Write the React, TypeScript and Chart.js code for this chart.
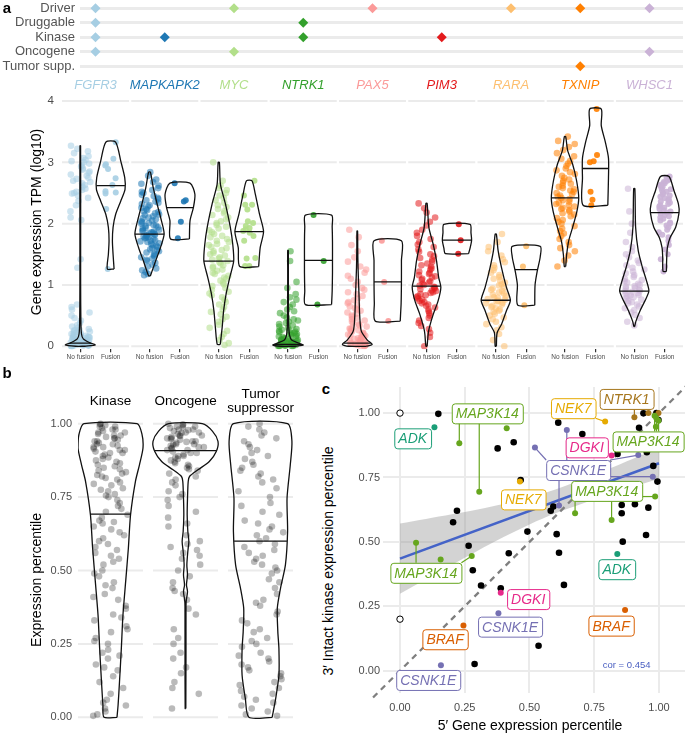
import React, { useEffect, useRef } from "react";
import { Chart, registerables } from "chart.js";

Chart.register(...registerables);

const FONT = "'Liberation Sans', Arial, Helvetica, sans-serif";
Chart.defaults.font.family = FONT;

// ================= Panel a : annotation matrix =================
const GENES = ["FGFR3", "MAPKAPK2", "MYC", "NTRK1", "PAX5", "PIM3", "RARA", "TXNIP", "WHSC1"];
const GENE_COLORS = ["#a6cee3", "#1f78b4", "#b2df8a", "#33a02c", "#fb9a99", "#e31a1c", "#fdbf6f", "#ff7f00", "#cab2d6"];
const ANNOT_ROWS = ["Tumor supp.", "Oncogene", "Kinase", "Druggable", "Driver"];
const TUMOR_SUPP_GENES = ["TXNIP"];
const ONCOGENE_GENES = ["FGFR3", "MYC", "WHSC1"];
const KINASE_GENES = ["FGFR3", "MAPKAPK2", "NTRK1", "PIM3"];
const DRUGGABLE_GENES = ["FGFR3", "NTRK1"];
const DRIVER_GENES = ["FGFR3", "MYC", "PAX5", "RARA", "TXNIP", "WHSC1"];
const ANNOT_MEMBERS = [TUMOR_SUPP_GENES, ONCOGENE_GENES, KINASE_GENES, DRUGGABLE_GENES, DRIVER_GENES];

// ================= Panel a : expression (log10 TPM) =================
const FUSION_GROUPS = ["No fusion", "Fusion"];
const EXPR_TICKS = [0, 1, 2, 3, 4];

const FGFR3_NF = [3.27, 3.22, 3.18, 3.15, 3.1, 3.07, 3.04, 3.02, 3.0, 2.98, 2.95, 2.93, 2.9, 2.88, 2.85, 2.83, 2.8, 2.78, 2.75, 2.73, 2.7, 2.68, 2.66, 2.63, 2.6, 2.57, 2.55, 2.52, 2.5, 2.49, 2.46, 2.42, 2.37, 2.3, 2.2, 2.1, 2.06, 1.42, 1.28, 0.68, 0.64, 0.6, 0.55, 0.5, 0.46, 0.42, 0.38, 0.34, 0.32, 0.3, 0.28, 0.27, 0.26, 0.25, 0.24, 0.23, 0.22, 0.21, 0.2, 0.19, 0.18, 0.18, 0.17, 0.16, 0.16, 0.15, 0.15, 0.14, 0.14, 0.13, 0.13, 0.12, 0.12, 0.11, 0.11, 0.1, 0.1, 0.1, 0.09, 0.09, 0.09, 0.08, 0.08, 0.08, 0.07, 0.07, 0.07, 0.06, 0.06, 0.06, 0.05, 0.05, 0.05, 0.05, 0.04, 0.04, 0.04, 0.03, 0.03, 0.03, 0.03, 0.02, 0.02, 0.02, 0.02, 0.01, 0.01, 0.01, 0, 0, 0, 0];
const FGFR3_F = [3.33, 3.06, 2.97, 2.89, 2.74, 2.63, 2.51, 2.49, 2.24, 2.53, 2.95, 1.26];
const MAPKAPK2_NF = [2.84, 2.78, 2.72, 2.68, 2.65, 2.62, 2.58, 2.55, 2.52, 2.5, 2.47, 2.45, 2.42, 2.4, 2.38, 2.36, 2.34, 2.32, 2.3, 2.28, 2.26, 2.24, 2.22, 2.2, 2.19, 2.17, 2.15, 2.14, 2.12, 2.1, 2.09, 2.07, 2.05, 2.04, 2.02, 2.01, 2.0, 1.98, 1.97, 1.96, 1.94, 1.93, 1.92, 1.9, 1.89, 1.88, 1.87, 1.86, 1.85, 1.84, 1.83, 1.82, 1.81, 1.8, 1.79, 1.78, 1.77, 1.76, 1.75, 1.73, 1.72, 1.71, 1.7, 1.68, 1.67, 1.65, 1.64, 1.62, 1.6, 1.58, 1.57, 1.55, 1.53, 1.51, 1.49, 1.47, 1.45, 1.43, 1.41, 1.39, 1.36, 1.33, 1.3, 1.27, 1.24, 1.21, 1.18, 1.16];
const MAPKAPK2_F = [2.66, 2.36, 2.38, 2.03, 1.76];
const MYC_NF = [3.0, 2.7, 2.62, 2.58, 2.55, 2.5, 2.46, 2.42, 2.38, 2.34, 2.3, 2.27, 2.24, 2.2, 2.17, 2.14, 2.1, 2.07, 2.04, 2.01, 1.98, 1.95, 1.92, 1.89, 1.86, 1.83, 1.8, 1.78, 1.75, 1.72, 1.7, 1.67, 1.65, 1.62, 1.6, 1.57, 1.55, 1.52, 1.5, 1.48, 1.45, 1.43, 1.41, 1.39, 1.37, 1.35, 1.32, 1.3, 1.28, 1.25, 1.23, 1.2, 1.18, 1.15, 1.12, 1.1, 1.07, 1.04, 1.01, 0.98, 0.95, 0.92, 0.89, 0.86, 0.83, 0.8, 0.76, 0.72, 0.68, 0.64, 0.6, 0.56, 0.52, 0.48, 0.44, 0.4, 0.35, 0.3, 0.25, 0.2, 0.15, 0.1, 0.05, 0.02];
const MYC_F = [2.7, 2.46, 2.31, 2.31, 2.23, 2.04, 2.01, 1.96, 1.93, 1.91, 1.88, 1.85, 1.8, 1.72, 1.44, 1.43, 1.31, 1.31];
const NTRK1_NF = [1.55, 1.39, 1.05, 0.95, 0.85, 0.8, 0.76, 0.72, 0.68, 0.64, 0.6, 0.57, 0.54, 0.5, 0.47, 0.44, 0.42, 0.4, 0.38, 0.36, 0.34, 0.32, 0.3, 0.28, 0.27, 0.26, 0.25, 0.24, 0.23, 0.22, 0.21, 0.2, 0.19, 0.18, 0.17, 0.16, 0.15, 0.14, 0.13, 0.12, 0.12, 0.11, 0.1, 0.1, 0.09, 0.09, 0.08, 0.08, 0.07, 0.07, 0.06, 0.06, 0.05, 0.05, 0.05, 0.04, 0.04, 0.03, 0.03, 0.03, 0.02, 0.02, 0.02, 0.01, 0.01, 0.01, 0, 0, 0, 0];
const NTRK1_F = [2.14, 1.39, 0.68];
const PAX5_NF = [1.9, 1.78, 1.65, 1.55, 1.45, 1.38, 1.3, 1.25, 1.2, 1.15, 1.1, 1.05, 1.0, 0.95, 0.92, 0.88, 0.85, 0.82, 0.78, 0.75, 0.72, 0.7, 0.67, 0.65, 0.62, 0.6, 0.58, 0.55, 0.53, 0.5, 0.48, 0.46, 0.44, 0.42, 0.4, 0.38, 0.36, 0.34, 0.32, 0.3, 0.29, 0.28, 0.26, 0.25, 0.24, 0.22, 0.21, 0.2, 0.19, 0.18, 0.17, 0.16, 0.15, 0.14, 0.13, 0.12, 0.11, 0.1, 0.09, 0.08, 0.07, 0.06, 0.05, 0.05, 0.04, 0.04, 0.03, 0.03, 0.02, 0.02, 0.01, 0.01, 0, 0];
const PAX5_F = [1.72, 1.05, 0.41];
const PIM3_NF = [2.33, 2.25, 2.18, 2.1, 2.03, 1.97, 1.9, 1.85, 1.8, 1.75, 1.7, 1.66, 1.62, 1.58, 1.54, 1.5, 1.47, 1.44, 1.41, 1.38, 1.35, 1.32, 1.3, 1.27, 1.25, 1.22, 1.2, 1.18, 1.16, 1.14, 1.12, 1.1, 1.08, 1.06, 1.04, 1.02, 1.0, 0.99, 0.97, 0.96, 0.94, 0.93, 0.91, 0.9, 0.88, 0.87, 0.85, 0.83, 0.82, 0.8, 0.78, 0.76, 0.74, 0.72, 0.7, 0.68, 0.66, 0.63, 0.6, 0.57, 0.54, 0.5, 0.46, 0.42, 0.38, 0.33, 0.28, 0.22, 0.15, 0];
const PIM3_F = [1.99, 1.73, 1.51];
const RARA_NF = [1.83, 1.7, 1.62, 1.55, 1.48, 1.42, 1.37, 1.32, 1.28, 1.24, 1.2, 1.16, 1.13, 1.1, 1.07, 1.04, 1.01, 0.99, 0.96, 0.94, 0.92, 0.9, 0.88, 0.86, 0.84, 0.82, 0.8, 0.79, 0.77, 0.76, 0.74, 0.73, 0.71, 0.7, 0.68, 0.66, 0.64, 0.62, 0.6, 0.58, 0.56, 0.53, 0.5, 0.47, 0.44, 0.4, 0.36, 0.31, 0.26, 0.2, 0.1, 0];
const RARA_F = [1.63, 1.3, 0.67];
const TXNIP_NF = [3.42, 3.35, 3.3, 3.25, 3.2, 3.15, 3.1, 3.06, 3.02, 2.98, 2.94, 2.9, 2.87, 2.84, 2.81, 2.78, 2.75, 2.72, 2.7, 2.67, 2.65, 2.62, 2.6, 2.58, 2.56, 2.54, 2.52, 2.5, 2.48, 2.46, 2.44, 2.42, 2.4, 2.38, 2.36, 2.34, 2.32, 2.3, 2.28, 2.26, 2.24, 2.22, 2.2, 2.17, 2.15, 2.12, 2.09, 2.06, 2.03, 2.0, 1.96, 1.92, 1.88, 1.84, 1.8, 1.75, 1.7, 1.65, 1.6, 1.55, 1.48, 1.4, 1.3];
const TXNIP_F = [3.87, 3.12, 3.0, 3.02, 2.52, 2.39, 2.3];
const WHSC1_NF = [2.57, 2.2, 2.0, 1.85, 1.7, 1.62, 1.55, 1.5, 1.45, 1.4, 1.36, 1.32, 1.28, 1.25, 1.22, 1.19, 1.16, 1.13, 1.1, 1.08, 1.06, 1.04, 1.02, 1.0, 0.98, 0.97, 0.95, 0.94, 0.92, 0.91, 0.9, 0.89, 0.87, 0.86, 0.84, 0.83, 0.81, 0.8, 0.78, 0.76, 0.74, 0.72, 0.7, 0.68, 0.65, 0.62, 0.59, 0.55, 0.51, 0.46, 0.4, 0.34];
const WHSC1_F = [2.77, 2.75, 2.72, 2.7, 2.68, 2.66, 2.64, 2.62, 2.6, 2.58, 2.56, 2.54, 2.52, 2.5, 2.48, 2.46, 2.44, 2.42, 2.4, 2.38, 2.36, 2.34, 2.32, 2.3, 2.28, 2.26, 2.24, 2.22, 2.2, 2.18, 2.16, 2.14, 2.12, 2.1, 2.08, 2.05, 2.02, 2.0, 1.97, 1.94, 1.9, 1.86, 1.82, 1.78, 1.72, 1.65, 1.58, 1.5, 1.42, 1.3, 1.22];

// violin outlines: y levels and half-widths (category units)
const FGFR3_NF_VY = [0, 0.02, 0.06, 0.12, 0.2, 0.4, 1, 2, 3.27];
const FGFR3_NF_VW = [0.15, 0.49, 0.3, 0.1, 0.04, 0.02, 0.012, 0.012, 0.01];
const FGFR3_F_VY = [1.26, 1.5, 1.72, 1.94, 2.15, 2.37, 2.56, 2.75, 3.02, 3.33];
const FGFR3_F_VW = [0.11, 0.077, 0.055, 0.077, 0.16, 0.33, 0.47, 0.46, 0.33, 0.16];
const MAPKAPK2_NF_VY = [1.15, 1.39, 1.61, 1.83, 2.05, 2.32, 2.59, 2.84];
const MAPKAPK2_NF_VW = [0.03, 0.2, 0.36, 0.48, 0.39, 0.25, 0.12, 0.03];
const MAPKAPK2_F_VY = [1.75, 2.05, 2.26, 2.48, 2.66];
const MAPKAPK2_F_VW = [0.31, 0.33, 0.44, 0.49, 0.33];
const MYC_NF_VY = [0.03, 0.3, 0.58, 0.85, 1.12, 1.39, 1.66, 1.94, 2.32, 2.64, 3.0];
const MYC_NF_VW = [0.05, 0.11, 0.16, 0.24, 0.36, 0.49, 0.46, 0.38, 0.22, 0.055, 0.02];
const MYC_F_VY = [1.3, 1.61, 1.87, 2.15, 2.48, 2.7];
const MYC_F_VW = [0.31, 0.36, 0.47, 0.34, 0.2, 0.09];
const NTRK1_NF_VY = [0, 0.02, 0.05, 0.1, 0.18, 0.3, 0.5, 0.8, 1.2, 1.56];
const NTRK1_NF_VW = [0.25, 0.5, 0.35, 0.12, 0.05, 0.025, 0.015, 0.012, 0.01, 0.01];
const NTRK1_F_VY = [0.68, 0.9, 1.2, 1.4, 1.7, 1.95, 2.14];
const NTRK1_F_VW = [0.43, 0.45, 0.46, 0.46, 0.46, 0.45, 0.43];
const PAX5_NF_VY = [0, 0.03, 0.1, 0.25, 0.5, 0.78, 1.0, 1.29, 1.6, 1.88];
const PAX5_NF_VW = [0.3, 0.49, 0.33, 0.13, 0.08, 0.06, 0.045, 0.025, 0.015, 0.01];
const PAX5_F_VY = [0.41, 0.7, 1.05, 1.4, 1.72];
const PAX5_F_VW = [0.41, 0.44, 0.45, 0.45, 0.45];
const PIM3_NF_VY = [0, 0.2, 0.3, 0.52, 0.74, 0.96, 1.12, 1.39, 1.66, 1.94, 2.33];
const PIM3_NF_VW = [0.02, 0.055, 0.09, 0.22, 0.38, 0.47, 0.4, 0.33, 0.22, 0.077, 0.02];
const PIM3_F_VY = [1.51, 1.6, 1.73, 1.85, 1.99];
const PIM3_F_VW = [0.38, 0.43, 0.48, 0.46, 0.43];
const RARA_NF_VY = [0, 0.22, 0.36, 0.58, 0.75, 0.96, 1.28, 1.56, 1.83];
const RARA_NF_VW = [0.02, 0.044, 0.19, 0.35, 0.48, 0.35, 0.19, 0.077, 0.02];
const RARA_F_VY = [0.67, 1.0, 1.22, 1.46, 1.63];
const RARA_F_VW = [0.28, 0.29, 0.36, 0.46, 0.46];
const TXNIP_NF_VY = [1.3, 1.5, 1.72, 1.94, 2.2, 2.42, 2.7, 2.97, 3.19, 3.42];
const TXNIP_NF_VW = [0.022, 0.055, 0.12, 0.25, 0.39, 0.45, 0.38, 0.25, 0.088, 0.022];
const TXNIP_F_VY = [2.3, 2.75, 3.07, 3.34, 3.6, 3.87];
const TXNIP_F_VW = [0.405, 0.427, 0.427, 0.32, 0.19, 0.19];
const WHSC1_NF_VY = [0.32, 0.41, 0.58, 0.74, 0.9, 1.07, 1.28, 1.56, 1.94, 2.57];
const WHSC1_NF_VW = [0.011, 0.055, 0.19, 0.35, 0.48, 0.4, 0.27, 0.13, 0.044, 0.02];
const WHSC1_F_VY = [1.22, 1.45, 1.61, 1.77, 1.94, 2.18, 2.32, 2.53, 2.77];
const WHSC1_F_VW = [0.055, 0.066, 0.088, 0.175, 0.36, 0.47, 0.45, 0.31, 0.14];

const NF_MEDIANS = [0.05, 1.83, 1.39, 0.03, 0.05, 0.98, 0.75, 2.42, 0.9];
const F_MEDIANS = [2.62, 2.26, 1.87, 1.4, 1.05, 1.73, 1.25, 2.9, 2.18];

const NF_POINTS = [FGFR3_NF, MAPKAPK2_NF, MYC_NF, NTRK1_NF, PAX5_NF, PIM3_NF, RARA_NF, TXNIP_NF, WHSC1_NF];
const F_POINTS = [FGFR3_F, MAPKAPK2_F, MYC_F, NTRK1_F, PAX5_F, PIM3_F, RARA_F, TXNIP_F, WHSC1_F];
const NF_VY = [FGFR3_NF_VY, MAPKAPK2_NF_VY, MYC_NF_VY, NTRK1_NF_VY, PAX5_NF_VY, PIM3_NF_VY, RARA_NF_VY, TXNIP_NF_VY, WHSC1_NF_VY];
const NF_VW = [FGFR3_NF_VW, MAPKAPK2_NF_VW, MYC_NF_VW, NTRK1_NF_VW, PAX5_NF_VW, PIM3_NF_VW, RARA_NF_VW, TXNIP_NF_VW, WHSC1_NF_VW];
const F_VY = [FGFR3_F_VY, MAPKAPK2_F_VY, MYC_F_VY, NTRK1_F_VY, PAX5_F_VY, PIM3_F_VY, RARA_F_VY, TXNIP_F_VY, WHSC1_F_VY];
const F_VW = [FGFR3_F_VW, MAPKAPK2_F_VW, MYC_F_VW, NTRK1_F_VW, PAX5_F_VW, PIM3_F_VW, RARA_F_VW, TXNIP_F_VW, WHSC1_F_VW];

// ================= Panel b : expression percentile =================
const PCT_CLASSES = ["Kinase", "Oncogene", "Tumor suppressor"];
const PCT_TICKS = [0, 0.25, 0.5, 0.75, 1];
const KINASE_PCT = [1.0, 0.998, 0.995, 0.99, 0.99, 0.985, 0.98, 0.98, 0.975, 0.97, 0.97, 0.965, 0.96, 0.96, 0.955, 0.95, 0.95, 0.945, 0.94, 0.94, 0.935, 0.93, 0.93, 0.925, 0.92, 0.92, 0.915, 0.91, 0.91, 0.905, 0.9, 0.9, 0.895, 0.89, 0.885, 0.88, 0.875, 0.87, 0.865, 0.86, 0.855, 0.85, 0.845, 0.84, 0.835, 0.83, 0.825, 0.82, 0.815, 0.81, 0.8, 0.795, 0.79, 0.78, 0.775, 0.77, 0.76, 0.755, 0.75, 0.74, 0.73, 0.72, 0.71, 0.7, 0.69, 0.68, 0.67, 0.665, 0.66, 0.65, 0.64, 0.63, 0.62, 0.61, 0.6, 0.59, 0.58, 0.57, 0.56, 0.55, 0.54, 0.53, 0.52, 0.5, 0.49, 0.48, 0.46, 0.45, 0.44, 0.42, 0.41, 0.4, 0.38, 0.37, 0.35, 0.34, 0.33, 0.31, 0.3, 0.29, 0.27, 0.26, 0.25, 0.23, 0.22, 0.21, 0.2, 0.18, 0.17, 0.16, 0.14, 0.12, 0.1, 0.08, 0.06, 0.05, 0.04, 0.03, 0.02, 0.01, 0.005];
const ONCOGENE_PCT = [1.0, 0.998, 0.995, 0.99, 0.99, 0.988, 0.985, 0.98, 0.98, 0.978, 0.975, 0.97, 0.97, 0.968, 0.965, 0.96, 0.96, 0.958, 0.955, 0.95, 0.95, 0.948, 0.945, 0.94, 0.94, 0.938, 0.935, 0.93, 0.93, 0.928, 0.925, 0.92, 0.92, 0.918, 0.915, 0.91, 0.91, 0.905, 0.9, 0.9, 0.895, 0.89, 0.89, 0.885, 0.88, 0.875, 0.87, 0.865, 0.86, 0.855, 0.85, 0.845, 0.84, 0.83, 0.82, 0.81, 0.8, 0.79, 0.77, 0.76, 0.75, 0.74, 0.72, 0.7, 0.68, 0.66, 0.65, 0.62, 0.6, 0.59, 0.58, 0.57, 0.56, 0.55, 0.54, 0.52, 0.5, 0.48, 0.46, 0.44, 0.43, 0.42, 0.4, 0.37, 0.35, 0.3, 0.27, 0.25, 0.22, 0.2, 0.17, 0.15, 0.12, 0.1, 0.08, 0.03];
const TUMOR_PCT = [1.0, 0.99, 0.98, 0.97, 0.96, 0.95, 0.94, 0.93, 0.92, 0.91, 0.9, 0.89, 0.88, 0.87, 0.86, 0.85, 0.84, 0.83, 0.82, 0.81, 0.8, 0.78, 0.77, 0.75, 0.73, 0.72, 0.7, 0.69, 0.67, 0.66, 0.65, 0.64, 0.63, 0.62, 0.61, 0.6, 0.59, 0.58, 0.57, 0.56, 0.55, 0.54, 0.53, 0.52, 0.51, 0.5, 0.49, 0.47, 0.46, 0.44, 0.42, 0.4, 0.39, 0.38, 0.36, 0.35, 0.33, 0.32, 0.3, 0.29, 0.27, 0.26, 0.25, 0.24, 0.22, 0.21, 0.2, 0.19, 0.18, 0.17, 0.16, 0.15, 0.14, 0.13, 0.12, 0.11, 0.1, 0.09, 0.08, 0.07, 0.06, 0.05, 0.04, 0.03, 0.02, 0.01, 0.005];
const KINASE_VY = [0, 0.041, 0.12, 0.234, 0.348, 0.462, 0.576, 0.689, 0.803, 0.86, 0.917, 0.965, 1.0];
const KINASE_VW = [0.12, 0.14, 0.166, 0.2, 0.23, 0.28, 0.33, 0.37, 0.46, 0.535, 0.6, 0.58, 0.49];
const ONCOGENE_VY = [0.03, 0.234, 0.348, 0.394, 0.428, 0.451, 0.485, 0.519, 0.565, 0.599, 0.633, 0.689, 0.746, 0.803, 0.82, 0.843, 0.871, 0.906, 0.94, 0.974, 1.0];
const ONCOGENE_VW = [0.006, 0.009, 0.009, 0.012, 0.037, 0.018, 0.037, 0.025, 0.043, 0.062, 0.043, 0.031, 0.037, 0.05, 0.074, 0.23, 0.44, 0.57, 0.6, 0.5, 0.31];
const TUMOR_VY = [0.0, 0.064, 0.143, 0.234, 0.291, 0.371, 0.44, 0.519, 0.633, 0.746, 0.86, 0.94, 1.0];
const TUMOR_VW = [0.215, 0.28, 0.34, 0.34, 0.32, 0.31, 0.37, 0.46, 0.5, 0.49, 0.55, 0.58, 0.5];
const PCT_MEDIANS = [0.692, 0.908, 0.6];
const PCT_POINTS = [KINASE_PCT, ONCOGENE_PCT, TUMOR_PCT];
const PCT_VY = [KINASE_VY, ONCOGENE_VY, TUMOR_VY];
const PCT_VW = [KINASE_VW, ONCOGENE_VW, TUMOR_VW];

// ================= Panel c : 5' vs 3' percentile =================
const C_TICKS = [0, 0.25, 0.5, 0.75, 1];
const C_BLACK_X = [0.148, 0.377, 0.439, 0.466, 0.22, 0.205, 0.265, 0.281, 0.313, 0.389, 0.492, 0.42, 0.582, 0.592, 0.605, 0.614, 0.633, 0.611, 0.704, 0.535, 0.288, 0.84, 0.856, 0.856, 0.86, 0.907, 0.95, 0.959, 0.923, 0.94, 0.953, 0.978, 0.994, 0.998, 0.99];
const C_BLACK_Y = [0.997, 0.863, 0.887, 0.74, 0.621, 0.576, 0.485, 0.39, 0.331, 0.32, 0.54, 0.456, 0.621, 0.637, 0.53, 0.458, 0.333, 0.963, 0.919, 0.097, 0.026, 0.841, 0.643, 0.611, 0.501, 0.646, 0.527, 0.633, 0.943, 0.999, 0.848, 0.795, 0.734, 0.973, 1.0];
const C_OPEN_X = [0, 0];
const C_OPEN_Y = [1.0, 0.2];
const C_GENES = ["ADK", "BRAF", "CSNK1E", "DGKI", "MAP3K14", "NEK7", "NTRK1"];
const C_COLORS = ["#1b9e77", "#d95f02", "#7570b3", "#e7298a", "#66a61e", "#e6ab02", "#a6761d"];
const ADK_X = [0.133, 0.839];
const ADK_Y = [0.945, 0.453];
const BRAF_X = [0.245, 0.869];
const BRAF_Y = [0.175, 0.236];
const CSNK1E_X = [0.158, 0.38, 0.521, 0.644, 0.614, 0.92, 0.976];
const CSNK1E_Y = [0.021, 0.223, 0.866, 0.934, 0.641, 0.837, 0.753];
const DGKI_X = [0.817, 0.389];
const DGKI_Y = [0.835, 0.303];
const MAP3K14_X = [0.229, 0.306, 0.412, 0.062, 0.157, 0.277, 0.983, 0.99, 0.998, 0.988, 0.676, 0.817, 0.985];
const MAP3K14_Y = [0.883, 0.695, 0.941, 0.497, 0.432, 0.445, 0.99, 0.98, 0.97, 0.947, 0.611, 0.585, 0.676];
const NEK7_X = [0.463, 0.792];
const NEK7_Y = [0.734, 0.967];
const NTRK1_X = [0.905, 0.959, 0.998];
const NTRK1_Y = [0.984, 1.0, 1.0];
const C_GENE_X = [ADK_X, BRAF_X, CSNK1E_X, DGKI_X, MAP3K14_X, NEK7_X, NTRK1_X];
const C_GENE_Y = [ADK_Y, BRAF_Y, CSNK1E_Y, DGKI_Y, MAP3K14_Y, NEK7_Y, NTRK1_Y];
const FIT_X = [0, 1];
const FIT_Y = [0.435, 0.805];
const CI_X = [0, 0.1, 0.2, 0.3, 0.4, 0.5, 0.6, 0.7, 0.8, 0.9, 1.0];
const CI_LOW = [0.299, 0.355, 0.411, 0.466, 0.519, 0.568, 0.611, 0.647, 0.681, 0.713, 0.745];
const CI_HIGH = [0.571, 0.589, 0.607, 0.626, 0.647, 0.672, 0.703, 0.741, 0.781, 0.823, 0.865];
const IDENTITY_RANGE = [-0.104, 1.13];
const COR_TEXT = "cor = 0.454";

// label placement (data units) for repelled labels: gene index, position, linked point indices
const C_LABELS = [
  { g: 0, x: 0.049, y: 0.902, pts: [0] },
  { g: 0, x: 0.837, y: 0.394, pts: [1] },
  { g: 1, x: 0.174, y: 0.122, pts: [0] },
  { g: 1, x: 0.815, y: 0.175, pts: [1] },
  { g: 2, x: 0.109, y: -0.036, pts: [0] },
  { g: 2, x: 0.425, y: 0.171, pts: [1] },
  { g: 2, x: 0.688, y: 0.779, pts: [2, 3, 4, 5, 6] },
  { g: 3, x: 0.721, y: 0.867, pts: [0] },
  { g: 3, x: 0.495, y: 0.278, pts: [1] },
  { g: 4, x: 0.337, y: 0.999, pts: [0, 1, 2] },
  { g: 4, x: 0.1, y: 0.38, pts: [3, 4, 5] },
  { g: 4, x: 0.958, y: 0.89, pts: [6, 7, 8, 9] },
  { g: 4, x: 0.798, y: 0.698, pts: [10, 11, 12] },
  { g: 5, x: 0.476, y: 0.665, pts: [0] },
  { g: 5, x: 0.669, y: 1.019, pts: [1] },
  { g: 6, x: 0.875, y: 1.055, pts: [0, 1, 2] },
];

// ================= helpers =================
type Pt = { x: number; y: number };
const FACET_W = 2.2;
const FACET_GAP = 0.074;
const STRIDE = FACET_W + FACET_GAP;
const EXPR_XMAX = GENES.length * FACET_W + (GENES.length - 1) * FACET_GAP;
const catX = (g: number, j: number) => g * STRIDE + 0.6 + j;
const PCT_FW = 1.2;
const PCT_GAP = 0.185;
const PCT_STRIDE = PCT_FW + PCT_GAP;
const PCT_XMAX = 3 * PCT_FW + 2 * PCT_GAP;

const hexA = (hex: string, a: number) => {
  const n = parseInt(hex.slice(1), 16);
  return `rgba(${(n >> 16) & 255},${(n >> 8) & 255},${n & 255},${a})`;
};

function violinPolygon(cx: number, vy: number[], vw: number[]): Pt[] {
  const pts: Pt[] = [];
  for (let k = 0; k < vy.length; k++) pts.push({ x: cx + vw[k], y: vy[k] });
  for (let k = vy.length - 1; k >= 0; k--) pts.push({ x: cx - vw[k], y: vy[k] });
  pts.push({ x: pts[0].x, y: pts[0].y });
  return pts;
}
function widthAt(vy: number[], vw: number[], y: number) {
  if (y <= vy[0]) return vw[0];
  for (let k = 1; k < vy.length; k++) {
    if (y <= vy[k]) {
      const t = (y - vy[k - 1]) / (vy[k] - vy[k - 1]);
      return vw[k - 1] + t * (vw[k] - vw[k - 1]);
    }
  }
  return vw[vw.length - 1];
}
function medianSeg(cx: number, vy: number[], vw: number[], m: number): Pt[] {
  const w = widthAt(vy, vw, m);
  return [{ x: cx - w, y: m }, { x: cx + w, y: m }];
}
// deterministic horizontal jitter offset in [-1, 1] (display only, not data)
const jitterOffset = (n: number) => {
  const s = Math.sin(n * 12.9898 + 78.233) * 43758.5453;
  return (s - Math.floor(s)) * 2 - 1;
};
function jitter(cx: number, vals: number[], w: number, seed: number): Pt[] {
  return vals.map((v, i) => ({ x: cx + jitterOffset(i + seed * 101) * w, y: v }));
}
const setTicks = (vals: number[]) => (axis: any) => {
  axis.ticks = vals.map((v) => ({ value: v }));
};
const noPad = (axis: any) => {
  axis.paddingTop = 0;
  axis.paddingBottom = 0;
  axis.paddingLeft = 0;
  axis.paddingRight = 0;
};
const fixW = (w: number) => (axis: any) => {
  axis.width = w;
  noPad(axis);
};
const fixH = (h: number) => (axis: any) => {
  axis.height = h;
  noPad(axis);
};

const LINE = { showLine: true, borderColor: "#111", borderWidth: 1.3, pointRadius: 0, pointHoverRadius: 0, fill: false, tension: 0.25 };

const facetGridPlugin = {
  id: "facetGrid",
  beforeDatasetsDraw(chart: any, _a: any, opts: any) {
    if (!opts || !opts.facets) return;
    const { ctx } = chart;
    const xs = chart.scales.x;
    const ys = chart.scales.y;
    ctx.save();
    ctx.strokeStyle = opts.color;
    ctx.lineWidth = opts.lineWidth;
    for (const [a, b] of opts.facets) {
      for (const v of opts.values) {
        const y = ys.getPixelForValue(v);
        ctx.beginPath();
        ctx.moveTo(xs.getPixelForValue(a), y);
        ctx.lineTo(xs.getPixelForValue(b), y);
        ctx.stroke();
      }
    }
    ctx.restore();
  },
};

const repelLabelPlugin = {
  id: "repelLabels",
  afterDatasetsDraw(chart: any, _a: any, opts: any) {
    if (!opts || !opts.items) return;
    const { ctx } = chart;
    const xs = chart.scales.x;
    const ys = chart.scales.y;
    ctx.save();
    ctx.font = `italic 14px ${FONT}`;
    const boxes = opts.items.map((it: any) => {
      const w = ctx.measureText(it.text).width + 8;
      const h = 20;
      const cx = xs.getPixelForValue(it.x);
      const cy = ys.getPixelForValue(it.y);
      return { ...it, l: cx - w / 2, t: cy - h / 2, w, h, cx, cy };
    });
    for (const b of boxes) {
      ctx.strokeStyle = b.color;
      ctx.lineWidth = 1.2;
      for (const p of b.targets) {
        const px = xs.getPixelForValue(p.x);
        const py = ys.getPixelForValue(p.y);
        const nx = Math.min(Math.max(px, b.l), b.l + b.w);
        const ny = Math.min(Math.max(py, b.t), b.t + b.h);
        if (Math.hypot(px - nx, py - ny) < 8) continue;
        ctx.beginPath();
        ctx.moveTo(px, py);
        ctx.lineTo(nx, ny);
        ctx.stroke();
      }
    }
    for (const b of boxes) {
      ctx.beginPath();
      if (ctx.roundRect) ctx.roundRect(b.l + 0.5, b.t + 0.5, b.w, b.h, 3);
      else ctx.rect(b.l + 0.5, b.t + 0.5, b.w, b.h);
      ctx.fillStyle = "#fff";
      ctx.fill();
      ctx.lineWidth = 1;
      ctx.strokeStyle = b.color;
      ctx.stroke();
      ctx.fillStyle = b.color;
      ctx.textAlign = "center";
      ctx.textBaseline = "middle";
      ctx.fillText(b.text, b.cx, b.cy + 1);
    }
    ctx.font = `9.5px ${FONT}`;
    ctx.fillStyle = opts.corColor;
    ctx.textAlign = "center";
    ctx.textBaseline = "middle";
    ctx.fillText(opts.corText, xs.getPixelForValue(opts.corX), ys.getPixelForValue(opts.corY));
    ctx.restore();
  },
};

const BASE_OPTS = {
  responsive: false,
  animation: false as const,
  devicePixelRatio: 1,
  events: [] as any[],
};
const NO_PLUGINS = { legend: { display: false }, tooltip: { enabled: false } };

// ================= chart configs =================
function makeAnnotConfig(): any {
  const datasets = GENES.map((g, gi) => ({
    data: ANNOT_MEMBERS.flatMap((list, r) => (list.includes(g) ? [{ x: gi, y: r }] : [])),
    showLine: false,
    pointStyle: "rectRot",
    pointRadius: 5,
    pointHoverRadius: 5,
    pointBackgroundColor: GENE_COLORS[gi],
    pointBorderWidth: 0,
  }));
  return {
    type: "line",
    data: { datasets },
    options: {
      ...BASE_OPTS,
      layout: { padding: { left: 0, right: 2, top: 1, bottom: 0 }, autoPadding: false },
      plugins: NO_PLUGINS,
      scales: {
        x: {
          type: "linear", min: -0.224, max: 8.484,
          afterBuildTicks: setTicks(GENES.map((_, i) => i)),
          afterFit: fixH(21.5),
          grid: { display: false, drawTicks: false },
          border: { display: false },
          ticks: {
            autoSkip: false, maxRotation: 0, padding: 4,
            callback: (_v: any, i: number) => GENES[i],
            color: (c: any) => GENE_COLORS[c.index],
            font: { size: 13, style: "italic" },
          },
        },
        y: {
          type: "linear", min: -0.5, max: 4.5,
          afterBuildTicks: setTicks([0, 1, 2, 3, 4]),
          afterFit: fixW(80),
          grid: { color: "#ebebeb", lineWidth: 3, drawTicks: false },
          border: { display: false },
          ticks: { autoSkip: false, padding: 5, color: "#555", font: { size: 13 }, callback: (_v: any, i: number) => ANNOT_ROWS[i] },
        },
      },
    },
  };
}

function makeExprConfig(): any {
  const datasets: any[] = [];
  const catPos: number[] = [];
  GENES.forEach((_g, gi) => {
    [0, 1].forEach((j) => {
      const cx = catX(gi, j);
      catPos.push(cx);
      const vy = j ? F_VY[gi] : NF_VY[gi];
      const vw = j ? F_VW[gi] : NF_VW[gi];
      const med = j ? F_MEDIANS[gi] : NF_MEDIANS[gi];
      const pts = j ? F_POINTS[gi] : NF_POINTS[gi];
      datasets.push({ data: violinPolygon(cx, vy, vw), ...LINE, order: 0 });
      datasets.push({ data: medianSeg(cx, vy, vw, med), ...LINE, tension: 0, order: 0 });
      datasets.push({
        data: jitter(cx, pts, j ? 0.2 : 0.33, gi * 2 + j + 1),
        showLine: false, pointRadius: j ? 3 : 3.3, pointHoverRadius: 3, pointBorderWidth: 0,
        pointBackgroundColor: hexA(GENE_COLORS[gi], j ? 0.9 : 0.55),
        order: 1,
      });
    });
  });
  return {
    type: "line",
    data: { datasets },
    plugins: [facetGridPlugin],
    options: {
      ...BASE_OPTS,
      layout: { padding: { left: 0, right: 2, top: 6, bottom: 0 }, autoPadding: false },
      plugins: {
        ...NO_PLUGINS,
        facetGrid: {
          facets: GENES.map((_g, gi) => [gi * STRIDE, gi * STRIDE + FACET_W]),
          values: EXPR_TICKS, color: "#ebebeb", lineWidth: 2,
        },
      },
      scales: {
        x: {
          type: "linear", min: 0, max: EXPR_XMAX,
          afterBuildTicks: setTicks(catPos),
          afterFit: fixH(17.7),
          grid: { display: true, drawOnChartArea: false, drawTicks: true, tickLength: 3, color: "#333", lineWidth: 1.2 },
          border: { display: false },
          ticks: { autoSkip: false, maxRotation: 0, padding: 1, color: "#4d4d4d", font: { size: 6.5 }, callback: (_v: any, i: number) => FUSION_GROUPS[i % 2] },
        },
        y: {
          type: "linear", min: -0.05, max: 4.05,
          afterBuildTicks: setTicks(EXPR_TICKS),
          afterFit: fixW(62),
          grid: { display: false, drawTicks: false },
          border: { display: false },
          ticks: { autoSkip: false, padding: 8, color: "#4d4d4d", font: { size: 11.5 }, callback: (v: any) => String(v) },
        },
      },
    },
  };
}

function makePctConfig(): any {
  const datasets: any[] = [];
  PCT_CLASSES.forEach((_c, ci) => {
    const cx = ci * PCT_STRIDE + 0.6;
    datasets.push({ data: violinPolygon(cx, PCT_VY[ci], PCT_VW[ci]), ...LINE, order: 0 });
    datasets.push({ data: medianSeg(cx, PCT_VY[ci], PCT_VW[ci], PCT_MEDIANS[ci]), ...LINE, tension: 0, order: 0 });
    datasets.push({
      data: jitter(cx, PCT_POINTS[ci], [0.32, 0.34, 0.42][ci], 40 + ci),
      showLine: false, pointRadius: 3.3, pointHoverRadius: 3.3, pointBorderWidth: 0,
      pointBackgroundColor: "rgba(0,0,0,0.27)", order: 1,
    });
  });
  return {
    type: "line",
    data: { datasets },
    plugins: [facetGridPlugin],
    options: {
      ...BASE_OPTS,
      layout: { padding: { left: 0, right: 7, top: 39, bottom: 1 }, autoPadding: false },
      plugins: {
        ...NO_PLUGINS,
        facetGrid: {
          facets: PCT_CLASSES.map((_c, ci) => [ci * PCT_STRIDE, ci * PCT_STRIDE + PCT_FW]),
          values: PCT_TICKS, color: "#ebebeb", lineWidth: 2,
        },
      },
      scales: {
        x: { type: "linear", min: 0, max: PCT_XMAX, display: false },
        y: {
          type: "linear", min: -0.05, max: 1.05,
          afterBuildTicks: setTicks(PCT_TICKS),
          afterFit: fixW(78),
          grid: { display: false, drawTicks: false },
          border: { display: false },
          ticks: { autoSkip: false, padding: 6, color: "#4d4d4d", font: { size: 11 }, callback: (v: any) => Number(v).toFixed(2) },
        },
      },
    },
  };
}

function makeScatterConfig(): any {
  const zip = (xs: number[], ys: number[]) => xs.map((x, i) => ({ x, y: ys[i] }));
  const datasets: any[] = [
    { data: zip(CI_X, CI_HIGH), showLine: true, borderColor: "transparent", borderWidth: 0, pointRadius: 0, fill: "+1", backgroundColor: "rgba(150,150,150,0.42)", order: 6, tension: 0.3 },
    { data: zip(CI_X, CI_LOW), showLine: true, borderColor: "transparent", borderWidth: 0, pointRadius: 0, fill: false, order: 6, tension: 0.3 },
    { data: zip(FIT_X, FIT_Y), showLine: true, borderColor: "#4463c8", borderWidth: 2.6, pointRadius: 0, fill: false, order: 4 },
    { data: IDENTITY_RANGE.map((v) => ({ x: v, y: v })), showLine: true, borderColor: "#7f7f7f", borderWidth: 2.3, borderDash: [6, 5], pointRadius: 0, fill: false, clip: false, order: 5 },
    { data: zip(C_BLACK_X, C_BLACK_Y), showLine: false, pointRadius: 3.3, pointHoverRadius: 3.3, pointBorderWidth: 0, pointBackgroundColor: "#000", order: 2 },
    { data: zip(C_OPEN_X, C_OPEN_Y), showLine: false, pointRadius: 3.2, pointHoverRadius: 3.2, pointBorderWidth: 1, pointBorderColor: "#000", pointBackgroundColor: "#fff", order: 2 },
  ];
  C_GENES.forEach((_g, gi) => {
    datasets.push({ data: zip(C_GENE_X[gi], C_GENE_Y[gi]), showLine: false, pointRadius: 3, pointHoverRadius: 3, pointBorderWidth: 0, pointBackgroundColor: C_COLORS[gi], order: 1 });
  });
  const items = C_LABELS.map((l) => ({
    text: C_GENES[l.g], color: C_COLORS[l.g], x: l.x, y: l.y,
    targets: l.pts.map((k) => ({ x: C_GENE_X[l.g][k], y: C_GENE_Y[l.g][k] })),
  }));
  return {
    type: "line",
    data: { datasets },
    plugins: [repelLabelPlugin],
    options: {
      ...BASE_OPTS,
      layout: { padding: { left: 0, right: 0, top: 17, bottom: 0 }, autoPadding: false },
      plugins: {
        ...NO_PLUGINS,
        repelLabels: { items, corText: COR_TEXT, corColor: "#4a5fc1", corX: 0.875, corY: 0.022 },
      },
      scales: {
        x: {
          type: "linear", min: -0.0656, max: 1.1004,
          afterBuildTicks: setTicks(C_TICKS),
          afterFit: fixH(40),
          grid: { color: "#ebebeb", lineWidth: 2, drawTicks: false },
          border: { display: false },
          ticks: { autoSkip: false, maxRotation: 0, padding: 8, color: "#4d4d4d", font: { size: 11 }, callback: (v: any) => Number(v).toFixed(2) },
        },
        y: {
          type: "linear", min: -0.0866, max: 1.1013,
          afterBuildTicks: setTicks(C_TICKS),
          afterFit: fixW(43),
          grid: { color: "#ebebeb", lineWidth: 2, drawTicks: false },
          border: { display: false },
          ticks: { autoSkip: false, padding: 3, color: "#4d4d4d", font: { size: 11 }, callback: (v: any) => Number(v).toFixed(2) },
        },
      },
    },
  };
}

// ================= components =================
function ChartBox({ left, top, width, height, make }: { left: number; top: number; width: number; height: number; make: () => any }) {
  const ref = useRef<HTMLCanvasElement>(null);
  useEffect(() => {
    const chart = new Chart(ref.current as HTMLCanvasElement, make());
    return () => chart.destroy();
  }, []);
  return <canvas ref={ref} width={width} height={height} style={{ position: "absolute", left, top, width, height }} />;
}

function Txt({ x, y, children, size = 14, rot = 0, bold = false, lh }: { x: number; y: number; children: any; size?: number; rot?: number; bold?: boolean; lh?: number }) {
  return (
    <div
      style={{
        position: "absolute", left: x, top: y,
        transform: `translate(-50%, -50%) rotate(${rot}deg)`,
        whiteSpace: "nowrap", fontSize: size, fontWeight: bold ? 700 : 400,
        fontFamily: FONT, color: "#000", textAlign: "center",
        lineHeight: lh ? `${lh}px` : 1,
      }}
    >
      {children}
    </div>
  );
}

export default function App() {
  return (
    <div style={{ position: "absolute", left: 0, top: 0, width: 685, height: 733, background: "#fff", overflow: "hidden" }}>
      <ChartBox left={0} top={0} width={685} height={95} make={makeAnnotConfig} />
      <ChartBox left={0} top={92} width={685} height={275} make={makeExprConfig} />
      <ChartBox left={0} top={370} width={300} height={363} make={makePctConfig} />
      <ChartBox left={340} top={370} width={345} height={363} make={makeScatterConfig} />
      <Txt x={7} y={7} size={15} bold>a</Txt>
      <Txt x={7} y={372} size={15} bold>b</Txt>
      <Txt x={326} y={388} size={15} bold>c</Txt>
      <Txt x={36} y={222} rot={-90}>Gene expression TPM (log10)</Txt>
      <Txt x={36} y={580} rot={-90}>Expression percentile</Txt>
      <Txt x={328} y={561} rot={-90}>3′ Intact kinase expression percentile</Txt>
      <Txt x={530} y={725}>5′ Gene expression percentile</Txt>
      <Txt x={110.5} y={401} size={13.5}>{PCT_CLASSES[0]}</Txt>
      <Txt x={185.6} y={401} size={13.5}>{PCT_CLASSES[1]}</Txt>
      <Txt x={260.7} y={401} size={13.5} lh={14}>
        Tumor
        <br />
        suppressor
      </Txt>
    </div>
  );
}
